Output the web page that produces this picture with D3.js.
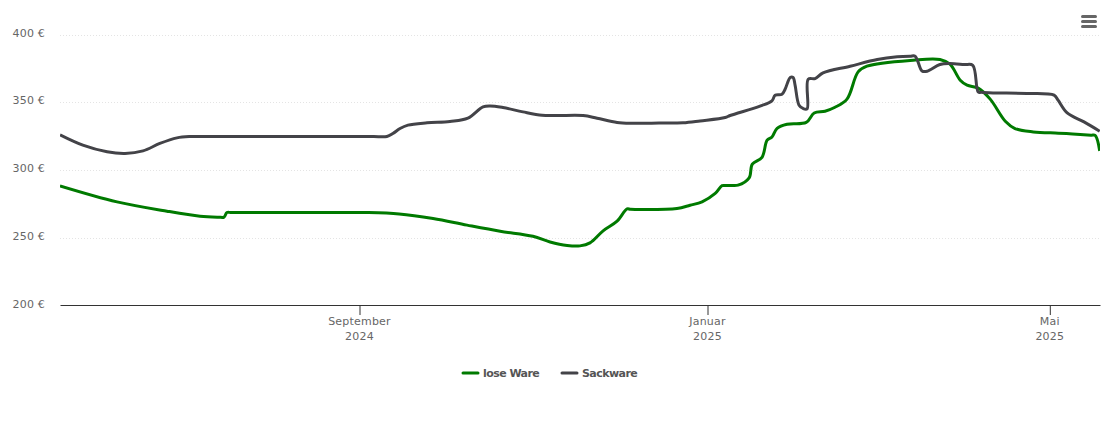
<!DOCTYPE html>
<html>
<head>
<meta charset="utf-8">
<style>
    body{ margin:0; background:#fff; }
    svg{ display:block; font-family:"DejaVu Sans",sans-serif; }
    .tick-label{ font-size:11px; fill:#666; letter-spacing:.2px; }
    .legend-label{ font-size:11px; font-weight:bold; fill:#555; letter-spacing:-.55px; }
</style>
<script src="https://d3js.org/d3.v7.min.js"></script>
</head>
<body>
<script>
    // days counted from 1 Sep 2024, values in euro
    const looseDays = [-105,-85,-67.5,-55.9,-49.5,-47.5,-46.5,-45,-40,-2,2.6,13.9,25.8,37.7,49.3,60.8,66.8,72.8,77.3,80.8,85.4,90.3,93.8,95,99.4,111.3,115.9,120.1,124.7,127.1,128.5,130,132.7,136.6,137.7,141.1,142.9,144.6,146.4,149.9,156.6,159.4,163.2,166.7,170.9,174.8,177.9,194.1,203.5,207,210.6,213,216.9,221.1,226.4,229.8,236.2,245,250,256.5,257.9,259.5];
    const looseValues = [288.3,276.5,269.6,265.9,265.2,265.2,268.6,268.6,268.6,268.6,268.6,267.6,264.2,259.3,254.8,251.1,246.9,244.3,244,246.2,255.1,262.2,271.3,271,270.8,271.6,274,276.5,282.7,288.4,288.5,288.6,288.8,294.2,304.3,309.4,322,324.4,330.8,333.8,335.1,342.1,343.4,346.3,352.3,372.4,376.6,381,381.5,378.1,366.3,362.6,360.4,352.3,336,330.6,328.1,327.2,326.6,325.7,325.5,314.1];
    const sackDays = [-105,-97,-88.5,-82.2,-75.9,-70,-64,-59.4,-55,-50,0,5,9.6,11.7,14.2,17,23.7,31.7,38,43.3,45.8,50.3,57.3,64,69.2,78.4,83.3,90.3,95.9,105,113.4,119.4,128.2,129.9,140.4,144.6,145.7,148.1,149.2,151,152,152.7,154.1,155.5,156.9,157.3,159.7,162.5,172,181.5,188.5,193,194.8,197.2,199,203.5,207,212,215,216.9,218,222.1,234,243.5,244.9,248.1,254,259.5];
    const sackValues = [325.9,318.3,313.4,312.2,314.1,319.6,323.7,324.7,324.7,324.7,324.7,324.7,324.7,326.9,330.6,333.1,334.8,335.8,338.2,346.6,347.3,346.1,342.9,340.4,340.2,340.2,338.2,335.1,334.5,334.6,334.8,336.2,338.7,340.2,347.1,351,355.2,355.9,359.6,368.3,368.3,362.6,347.8,345.4,345.1,367,367.5,371.7,376.6,381.5,383.5,384,384,373.1,372.9,377.9,378.6,377.8,377.3,357.6,357.3,356.9,356.5,355.2,351.5,342.1,335.5,328.6];

    const yTicks = [200,250,300,350,400];
    const monthDays = [0,122,242];
    const monthNames = ["September","Januar","Mai"];
    const monthYears = ["2024","2025","2025"];
    const seriesNames = ["lose Ware","Sackware"];
    const seriesColors = ["#007a00","#434348"];

    const w = 1110;
    const h = 423;
    const svg = d3.select("body").append("svg").attr("width",w).attr("height",h);

    const x = d3.scaleLinear().domain([-105,259.6]).range([60,1100]);
    const y = d3.scaleLinear().domain([200,400]).range([305.5,34.5]);

    // grid
    svg.append("g").selectAll("line")
        .data(yTicks.slice(1))
        .enter().append("line")
        .attr("x1",60).attr("x2",1100)
        .attr("y1",d => Math.round(y(d))+0.5)
        .attr("y2",d => Math.round(y(d))+0.5)
        .attr("stroke","#e4e4e4")
        .attr("stroke-dasharray","1,2");

    // y labels
    svg.append("g").selectAll("text")
        .data(yTicks)
        .enter().append("text")
        .attr("class","tick-label")
        .attr("x",45)
        .attr("y",d => y(d)+2)
        .attr("text-anchor","end")
        .text(d => d+" €");

    // x axis
    const xAxis = d3.axisBottom(x).tickValues(monthDays).tickSize(10).tickSizeOuter(0).tickFormat("");
    const axisG = svg.append("g").attr("transform","translate(0,305)").call(xAxis);
    axisG.select(".domain").attr("stroke","#333");
    axisG.selectAll(".tick line").attr("stroke","#333");

    const monthG = svg.append("g").selectAll("text")
        .data(monthDays)
        .enter().append("text")
        .attr("class","tick-label")
        .attr("text-anchor","middle")
        .attr("x",d => x(d));
    monthG.append("tspan").attr("y",325).attr("x",d => x(d)).text((d,i) => monthNames[i]);
    monthG.append("tspan").attr("y",340).attr("x",d => x(d)).text((d,i) => monthYears[i]);

    // lines
    const line = d3.line()
        .x(d => x(d[0]))
        .y(d => y(d[1]))
        .curve(d3.curveCatmullRom.alpha(0.5));

    svg.append("clipPath").attr("id","plot").append("rect")
        .attr("x",60).attr("y",0).attr("width",1040).attr("height",305);

    [d3.zip(looseDays,looseValues), d3.zip(sackDays,sackValues)].forEach((pts,i) => {
        svg.append("path")
            .datum(pts)
            .attr("d",line)
            .attr("fill","none")
            .attr("stroke",seriesColors[i])
            .attr("stroke-width",3)
            .attr("stroke-linejoin","round")
            .attr("clip-path","url(#plot)");
    });

    // legend
    const legendX = [463,562];
    const legend = svg.append("g").selectAll("g")
        .data(seriesNames)
        .enter().append("g")
        .attr("transform",(d,i) => "translate("+legendX[i]+",373)");
    legend.append("line")
        .attr("x1",0).attr("x2",15)
        .attr("stroke",(d,i) => seriesColors[i])
        .attr("stroke-width",3)
        .attr("stroke-linecap","round");
    legend.append("text")
        .attr("class","legend-label")
        .attr("x",20)
        .attr("y",4)
        .text(d => d);

    // menu button
    svg.append("g").selectAll("rect")
        .data([0,1,2])
        .enter().append("rect")
        .attr("x",1081).attr("width",16)
        .attr("y",d => 15+d*5).attr("height",3)
        .attr("rx",1.5)
        .attr("fill","#666");
</script>
</body>
</html>
